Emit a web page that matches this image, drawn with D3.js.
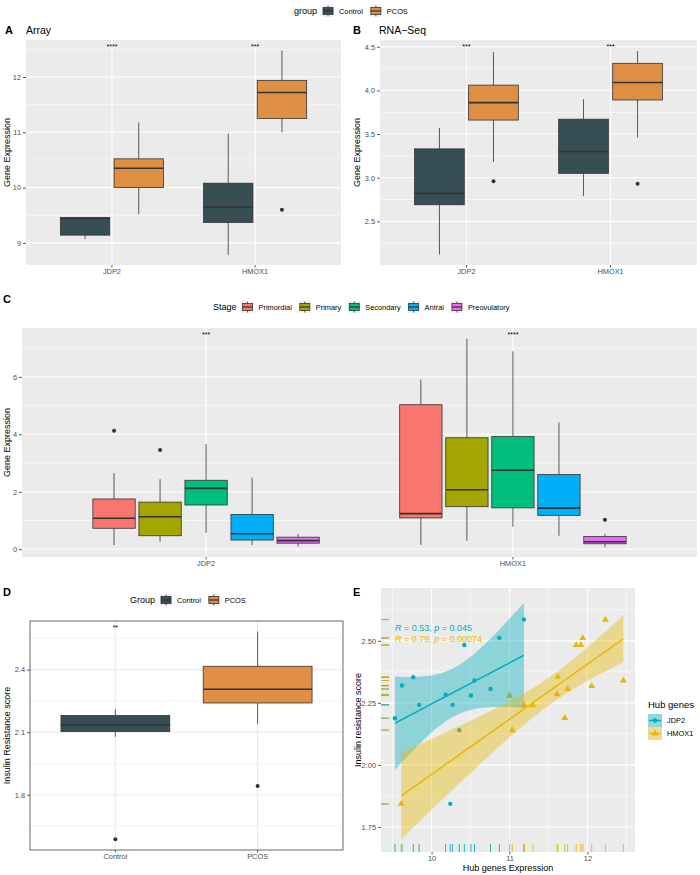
<!DOCTYPE html>
<html><head><meta charset="utf-8">
<script src="https://cdn.jsdelivr.net/npm/d3@7"></script>
<style>
body{margin:0;background:#fff}
svg{display:block}
text{font-family:"Liberation Sans",Arial,Helvetica,sans-serif}
</style>
</head><body>
<svg id="chart" width="700" height="875"></svg>
<script>
// ---------------- DATA ----------------
const genes = ["JDP2", "HMOX1"];
const groups = ["Control", "PCOS"];
const stages = ["Primordial", "Primary", "Secondary", "Antral", "Preovulatory"];

// box stats: [lower whisker, Q1, median, Q3, upper whisker], one entry per gene
const arrayControl = [[9.07, 9.14, 9.44, 9.46, 9.47], [8.78, 9.37, 9.65, 10.08, 10.98]];
const arrayPCOS    = [[9.52, 10.00, 10.35, 10.52, 11.18], [11.00, 11.25, 11.72, 11.94, 12.48]];
const arrayOutliers = [{gene: "HMOX1", group: "PCOS", value: 9.60}];
const arraySig = ["****", "***"];
const arrayTicks = [9, 10, 11, 12];

const rnaControl = [[2.12, 2.69, 2.82, 3.33, 3.57], [2.79, 3.05, 3.30, 3.67, 3.90]];
const rnaPCOS    = [[3.18, 3.66, 3.86, 4.06, 4.44], [3.46, 3.89, 4.09, 4.31, 4.45]];
const rnaOutliers = [{gene: "JDP2", group: "PCOS", value: 2.96}, {gene: "HMOX1", group: "PCOS", value: 2.93}];
const rnaSig = ["***", "***"];
const rnaTicks = [2.5, 3.0, 3.5, 4.0, 4.5];

// one entry per stage
const stageJDP2  = [[0.14, 0.73, 1.08, 1.75, 2.65], [0.26, 0.47, 1.13, 1.64, 2.44], [0.57, 1.54, 2.12, 2.40, 3.66], [0.14, 0.32, 0.54, 1.21, 2.49], [0.09, 0.21, 0.30, 0.42, 0.53]];
const stageHMOX1 = [[0.15, 1.09, 1.24, 5.03, 5.91], [0.30, 1.48, 2.07, 3.88, 7.33], [0.78, 1.44, 2.75, 3.92, 6.89], [0.47, 1.18, 1.43, 2.60, 4.41], [0.07, 0.19, 0.26, 0.44, 0.54]];
const stageOutliers = [{gene: "JDP2", stage: "Primordial", value: 4.12}, {gene: "JDP2", stage: "Primary", value: 3.45}, {gene: "HMOX1", stage: "Preovulatory", value: 1.03}];
const stageSig = ["***", "****"];
const stageTicks = [0, 2, 4, 6];

// one entry per group
const irStats = [[2.078, 2.103, 2.135, 2.180, 2.210], [2.138, 2.240, 2.306, 2.416, 2.583]];
const irOutliers = [{group: "Control", value: 1.587}, {group: "PCOS", value: 1.842}];
const irSig = ["**", ""];
const irTicks = [1.8, 2.1, 2.4];

const jdp2X = [9.53, 9.62, 9.765, 9.84, 10.18, 10.27, 10.24, 10.355, 10.42, 10.505, 10.55, 10.756, 10.87, 11.185];
const jdp2Y = [2.188, 2.320, 2.353, 2.242, 2.283, 2.242, 1.843, 2.140, 2.483, 2.280, 2.340, 2.306, 2.512, 2.586];
const hmox1X = [9.61, 11.00, 11.035, 11.19, 11.30, 11.61, 11.62, 11.745, 11.71, 11.855, 11.915, 11.94, 12.055, 12.23, 12.46];
const hmox1Y = [1.843, 2.279, 2.140, 2.240, 2.240, 2.285, 2.355, 2.306, 2.189, 2.483, 2.483, 2.511, 2.318, 2.585, 2.340];
const corLabels = [{r: "0.53", p: "0.045"}, {r: "0.79", p: "0.00074"}];
const eXTicks = [10, 11, 12];
const eYTicks = [1.75, 2.00, 2.25, 2.50];

// ---------------- STYLE ----------------
const groupColors = ["#374E55", "#DF8F44"];
const stageColors = ["#F8766D", "#A3A500", "#00BF7D", "#00B0F6", "#E76BF3"];
const geneColors = ["#00AFBB", "#E7B800"];
const LINE = "#333333";
const TICKTXT = "#4D4D4D";

const svg = d3.select("#chart");

function styleAxis(ax) {
  ax.select(".domain").remove();
  ax.selectAll(".tick line").attr("stroke", LINE).attr("stroke-width", 0.8);
  ax.selectAll(".tick text").attr("fill", TICKTXT).style("font-size", "7.4px")
    .style("font-family", '"Liberation Sans",Arial,sans-serif');
}

function drawBox(g, cx, w, st, y, fill) {
  const [lo, q1, med, q3, hi] = st;
  g.append("line").attr("x1", cx).attr("x2", cx).attr("y1", y(hi)).attr("y2", y(q3))
    .attr("stroke", LINE).attr("stroke-width", 0.8);
  g.append("line").attr("x1", cx).attr("x2", cx).attr("y1", y(q1)).attr("y2", y(lo))
    .attr("stroke", LINE).attr("stroke-width", 0.8);
  g.append("rect").attr("x", cx - w / 2).attr("y", y(q3)).attr("width", w).attr("height", y(q1) - y(q3))
    .attr("fill", fill).attr("stroke", LINE).attr("stroke-width", 0.8);
  g.append("line").attr("x1", cx - w / 2).attr("x2", cx + w / 2).attr("y1", y(med)).attr("y2", y(med))
    .attr("stroke", LINE).attr("stroke-width", 1.6);
}

function boxPanel(o) {
  const g = svg.append("g");
  const {x0, x1, y0, y1} = o;
  const y = d3.scaleLinear().domain(o.yDomain).range([y1, y0]);
  const x = d3.scaleBand().domain(o.cats).range([x0, x1]).paddingInner(0).paddingOuter(0.1);
  const step = x.bandwidth();
  const sub = d3.scaleBand().domain(o.subs).range([-0.375 * step, 0.375 * step]);
  const bw = sub.bandwidth() * o.boxFrac;
  const bwTheme = o.theme === "bw";
  const gridCol = bwTheme ? "#EBEBEB" : "#FFFFFF";
  g.append("rect").attr("x", x0).attr("y", y0).attr("width", x1 - x0).attr("height", y1 - y0)
    .attr("fill", bwTheme ? "#FFFFFF" : "#EBEBEB");
  o.yMinor.forEach(v => g.append("line").attr("x1", x0).attr("x2", x1).attr("y1", y(v)).attr("y2", y(v))
    .attr("stroke", gridCol).attr("stroke-width", 0.55));
  o.yTicks.forEach(v => g.append("line").attr("x1", x0).attr("x2", x1).attr("y1", y(v)).attr("y2", y(v))
    .attr("stroke", gridCol).attr("stroke-width", 1.1));
  o.cats.forEach(c => {
    const cx = x(c) + step / 2;
    g.append("line").attr("x1", cx).attr("x2", cx).attr("y1", y0).attr("y2", y1)
      .attr("stroke", gridCol).attr("stroke-width", 1.1);
  });
  o.cats.forEach((c, ci) => {
    o.subs.forEach((s, si) => {
      const cx = x(c) + step / 2 + sub(s) + sub.bandwidth() / 2;
      drawBox(g, cx, bw, o.stat(ci, si), y, o.color(ci, si));
    });
  });
  o.outliers.forEach(d => {
    const cx = x(d.cat) + step / 2 + sub(d.sub) + sub.bandwidth() / 2;
    g.append("circle").attr("cx", cx).attr("cy", y(d.value)).attr("r", 2).attr("fill", LINE);
  });
  o.cats.forEach((c, ci) => {
    g.append("text").attr("x", x(c) + step / 2).attr("y", o.sigY).attr("text-anchor", "middle")
      .style("font-size", "7px").attr("fill", "#000").text(o.sig[ci]);
  });
  if (bwTheme) {
    g.append("rect").attr("x", x0).attr("y", y0).attr("width", x1 - x0).attr("height", y1 - y0)
      .attr("fill", "none").attr("stroke", "#444").attr("stroke-width", 0.8);
  }
  const ay = g.append("g").attr("transform", `translate(${x0},0)`)
    .call(d3.axisLeft(y).tickValues(o.yTicks).tickSize(3).tickPadding(2).tickFormat(o.fmt));
  styleAxis(ay);
  const ax = g.append("g").attr("transform", `translate(0,${y1})`)
    .call(d3.axisBottom(x).tickSize(2.5).tickPadding(1.5));
  styleAxis(ax);
  g.append("text").attr("transform", `translate(${o.yTitleX},${(y0 + y1) / 2}) rotate(-90)`)
    .attr("text-anchor", "middle").style("font-size", "9px").attr("fill", "#000").text(o.yTitle);
  return g;
}

function boxLegend(startX, cy, title, labels, colors) {
  const g = svg.append("g");
  const t = g.append("text").attr("x", startX).attr("y", cy + 3.2).style("font-size", "9px").attr("fill", "#000").text(title);
  let xx = startX + t.node().getComputedTextLength() + 5;
  labels.forEach((lab, i) => {
    const k = 12;
    g.append("rect").attr("x", xx).attr("y", cy - k / 2).attr("width", k).attr("height", k).attr("fill", "#F2F2F2");
    g.append("line").attr("x1", xx + k / 2).attr("x2", xx + k / 2).attr("y1", cy - k / 2 + 0.5).attr("y2", cy + k / 2 - 0.5)
      .attr("stroke", LINE).attr("stroke-width", 0.8);
    g.append("rect").attr("x", xx + 1).attr("y", cy - 3.5).attr("width", k - 2).attr("height", 7)
      .attr("fill", colors[i]).attr("stroke", LINE).attr("stroke-width", 0.8);
    g.append("line").attr("x1", xx + 1).attr("x2", xx + k - 1).attr("y1", cy).attr("y2", cy)
      .attr("stroke", LINE).attr("stroke-width", 1.2);
    const tt = g.append("text").attr("x", xx + k + 5).attr("y", cy + 2.7).style("font-size", "7.4px").attr("fill", "#000").text(lab);
    xx = xx + k + 5 + tt.node().getComputedTextLength() + 7;
  });
}

function panelTitle(x, y, letter, sub, subX) {
  svg.append("text").attr("x", x).attr("y", y).style("font-size", "11px").style("font-weight", "bold").attr("fill", "#000").text(letter);
  if (sub) svg.append("text").attr("x", subX).attr("y", y).style("font-size", "10.5px").attr("fill", "#000").text(sub);
}

// ---------------- PANEL A ----------------
boxLegend(294, 11, "group", groups, groupColors);
panelTitle(5, 34, "A", "Array", 26);
const arrStats = [arrayControl, arrayPCOS];
boxPanel({
  x0: 26, x1: 341, y0: 40, y1: 265, yDomain: [8.6, 12.67],
  cats: genes, subs: groups, color: (ci, si) => groupColors[si], boxFrac: 0.92,
  stat: (ci, si) => arrStats[si][ci],
  outliers: arrayOutliers.map(d => ({cat: d.gene, sub: d.group, value: d.value})),
  yTicks: arrayTicks, yMinor: [9.5, 10.5, 11.5, 12.5], fmt: d3.format("d"),
  sig: arraySig, sigY: 49, theme: "gray", yTitle: "Gene Expression", yTitleX: 10
});

// ---------------- PANEL B ----------------
panelTitle(353, 34, "B", "RNA\u2212Seq", 379);
const rStats = [rnaControl, rnaPCOS];
boxPanel({
  x0: 380, x1: 697, y0: 40, y1: 265, yDomain: [2.0, 4.577],
  cats: genes, subs: groups, color: (ci, si) => groupColors[si], boxFrac: 0.92,
  stat: (ci, si) => rStats[si][ci],
  outliers: rnaOutliers.map(d => ({cat: d.gene, sub: d.group, value: d.value})),
  yTicks: rnaTicks, yMinor: [2.25, 2.75, 3.25, 3.75, 4.25], fmt: d3.format(".1f"),
  sig: rnaSig, sigY: 49, theme: "gray", yTitle: "Gene Expression", yTitleX: 360
});

// ---------------- PANEL C ----------------
panelTitle(3, 303, "C");
boxLegend(213, 307, "Stage", stages, stageColors);
const sStats = [stageJDP2, stageHMOX1];
boxPanel({
  x0: 22, x1: 697, y0: 328, y1: 557, yDomain: [-0.27, 7.70],
  cats: genes, subs: stages, color: (ci, si) => stageColors[si], boxFrac: 0.92,
  stat: (ci, si) => sStats[ci][si],
  outliers: stageOutliers.map(d => ({cat: d.gene, sub: d.stage, value: d.value})),
  yTicks: stageTicks, yMinor: [1, 3, 5, 7], fmt: d3.format("d"),
  sig: stageSig, sigY: 337, theme: "gray", yTitle: "Gene Expression", yTitleX: 10
});

// ---------------- PANEL D ----------------
panelTitle(3, 596, "D");
boxLegend(130, 600, "Group", groups, groupColors);
boxPanel({
  x0: 30, x1: 343, y0: 621, y1: 850, yDomain: [1.535, 2.633],
  cats: groups, subs: ["all"], color: (ci, si) => groupColors[ci], boxFrac: 1.02,
  stat: (ci, si) => irStats[ci],
  outliers: irOutliers.map(d => ({cat: d.group, sub: "all", value: d.value})),
  yTicks: irTicks, yMinor: [1.65, 1.95, 2.25, 2.55], fmt: d3.format(".1f"),
  sig: irSig, sigY: 630, theme: "bw", yTitle: "Insulin Resistance score", yTitleX: 10
});

// ---------------- PANEL E ----------------
panelTitle(353, 596, "E");
(function () {
  const x0 = 381, x1 = 635, y0 = 588, y1 = 852;
  const g = svg.append("g");
  const x = d3.scaleLinear().domain([9.351, 12.61]).range([x0, x1]);
  const y = d3.scaleLinear().domain([1.649, 2.713]).range([y1, y0]);
  g.append("rect").attr("x", x0).attr("y", y0).attr("width", x1 - x0).attr("height", y1 - y0).attr("fill", "#EBEBEB");
  [9.5, 10.5, 11.5, 12.5].forEach(v => g.append("line").attr("x1", x(v)).attr("x2", x(v)).attr("y1", y0).attr("y2", y1).attr("stroke", "#fff").attr("stroke-width", 0.55));
  [1.875, 2.125, 2.375, 2.625].forEach(v => g.append("line").attr("x1", x0).attr("x2", x1).attr("y1", y(v)).attr("y2", y(v)).attr("stroke", "#fff").attr("stroke-width", 0.55));
  eXTicks.forEach(v => g.append("line").attr("x1", x(v)).attr("x2", x(v)).attr("y1", y0).attr("y2", y1).attr("stroke", "#fff").attr("stroke-width", 1.1));
  eYTicks.forEach(v => g.append("line").attr("x1", x0).attr("x2", x1).attr("y1", y(v)).attr("y2", y(v)).attr("stroke", "#fff").attr("stroke-width", 1.1));

  const series = [{xs: jdp2X, ys: jdp2Y, col: geneColors[0], shape: "circle"},
                  {xs: hmox1X, ys: hmox1Y, col: geneColors[1], shape: "triangle"}];
  const tri = d3.symbol().type(d3.symbolTriangle).size(20);
  // points
  series.forEach(s => {
    s.xs.forEach((xv, i) => {
      if (s.shape === "circle") {
        g.append("circle").attr("cx", x(xv)).attr("cy", y(s.ys[i])).attr("r", 2.2).attr("fill", s.col);
      } else {
        g.append("path").attr("d", tri).attr("transform", `translate(${x(xv)},${y(s.ys[i])})`).attr("fill", s.col);
      }
    });
  });
  // linear fit + 95% CI
  function tq(df) {
    const z = 1.959964;
    const z3 = z ** 3, z5 = z ** 5, z7 = z ** 7;
    return z + (z3 + z) / (4 * df) + (5 * z5 + 16 * z3 + 3 * z) / (96 * df * df) + (3 * z7 + 19 * z5 + 17 * z3 - 15 * z) / (384 * df ** 3);
  }
  series.forEach(s => {
    const n = s.xs.length;
    const mx = d3.mean(s.xs), my = d3.mean(s.ys);
    let sxx = 0, sxy = 0;
    s.xs.forEach((xv, i) => { sxx += (xv - mx) ** 2; sxy += (xv - mx) * (s.ys[i] - my); });
    const b = sxy / sxx, a = my - b * mx;
    let sse = 0;
    s.xs.forEach((xv, i) => { sse += (s.ys[i] - (a + b * xv)) ** 2; });
    const se = Math.sqrt(sse / (n - 2));
    const t = tq(n - 2);
    const [lo, hi] = d3.extent(s.xs);
    const grid = d3.range(0, 81).map(k => lo + (hi - lo) * k / 80);
    const pts = grid.map(xv => {
      const fit = a + b * xv;
      const h = t * se * Math.sqrt(1 / n + (xv - mx) ** 2 / sxx);
      return {x: xv, fit, lo: fit - h, hi: fit + h};
    });
    g.append("path").datum(pts)
      .attr("d", d3.area().x(d => x(d.x)).y0(d => y(d.lo)).y1(d => y(d.hi)))
      .attr("fill", s.col).attr("fill-opacity", 0.4);
    g.append("path").datum(pts)
      .attr("d", d3.line().x(d => x(d.x)).y(d => y(d.fit)))
      .attr("fill", "none").attr("stroke", s.col).attr("stroke-width", 1.5);
  });
  // rugs
  series.forEach(s => {
    s.xs.forEach(xv => g.append("line").attr("x1", x(xv)).attr("x2", x(xv)).attr("y1", y1).attr("y2", y1 - 8).attr("stroke", s.col).attr("stroke-width", 0.9));
    s.ys.forEach(yv => g.append("line").attr("x1", x0).attr("x2", x0 + 8).attr("y1", y(yv)).attr("y2", y(yv)).attr("stroke", s.col).attr("stroke-width", 0.9));
  });
  // correlation labels
  corLabels.forEach((c, i) => {
    const t = g.append("text").attr("x", 395).attr("y", 630.5 + i * 11.7).style("font-size", "9px").attr("fill", geneColors[i]);
    t.append("tspan").style("font-style", "italic").text("R");
    t.append("tspan").text(` = ${c.r}, `);
    t.append("tspan").style("font-style", "italic").text("p");
    t.append("tspan").text(` = ${c.p}`);
  });
  const ay = g.append("g").attr("transform", `translate(${x0},0)`)
    .call(d3.axisLeft(y).tickValues(eYTicks).tickSize(3).tickPadding(2).tickFormat(d3.format(".2f")));
  styleAxis(ay);
  const ax = g.append("g").attr("transform", `translate(0,${y1})`)
    .call(d3.axisBottom(x).tickValues(eXTicks).tickSize(2.5).tickPadding(1).tickFormat(d3.format("d")));
  styleAxis(ax);
  g.append("text").attr("x", (x0 + x1) / 2).attr("y", 871).attr("text-anchor", "middle").style("font-size", "9px").attr("fill", "#000").text("Hub genes Expression");
  g.append("text").attr("transform", `translate(361,${(y0 + y1) / 2}) rotate(-90)`).attr("text-anchor", "middle").style("font-size", "9px").attr("fill", "#000").text("Insulin resistance score");
  // legend
  g.append("text").attr("x", 648).attr("y", 707.5).style("font-size", "9.5px").attr("fill", "#000").text("Hub genes");
  genes.forEach((gn, i) => {
    const ky = 714 + i * 13, kw = 14, kh = 13;
    g.append("rect").attr("x", 648).attr("y", ky).attr("width", kw).attr("height", kh).attr("fill", "#F2F2F2");
    g.append("rect").attr("x", 648).attr("y", ky).attr("width", kw).attr("height", kh).attr("fill", geneColors[i]).attr("fill-opacity", 0.4);
    g.append("line").attr("x1", 649).attr("x2", 661).attr("y1", ky + kh / 2).attr("y2", ky + kh / 2).attr("stroke", geneColors[i]).attr("stroke-width", 1.5);
    if (i === 0) g.append("circle").attr("cx", 655).attr("cy", ky + kh / 2).attr("r", 2.2).attr("fill", geneColors[i]);
    else g.append("path").attr("d", tri).attr("transform", `translate(655,${ky + kh / 2})`).attr("fill", geneColors[i]);
    g.append("text").attr("x", 667).attr("y", ky + kh / 2 + 2.7).style("font-size", "7.4px").attr("fill", "#000").text(gn);
  });
})();
</script>
</body></html>
